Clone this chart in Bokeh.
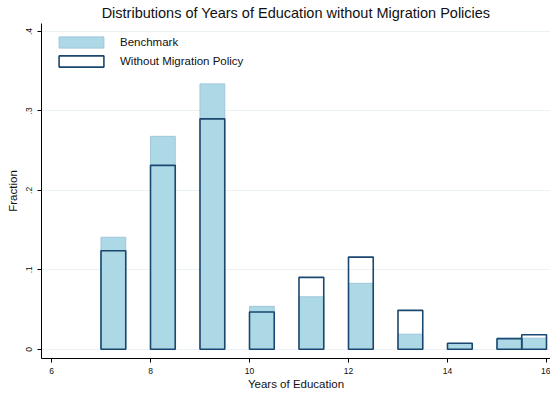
from bokeh.plotting import figure
from bokeh.models import Legend, LegendItem, FixedTicker
from bokeh.embed import file_html
from bokeh.resources import INLINE

# Histogram bins (left edges, years of education) and bar width
bin_left = [7, 8, 9, 10, 11, 12, 13, 14, 15, 15.5]
bin_width = 0.5

# Fraction of population in each bin
benchmark = [0.141, 0.268, 0.334, 0.054, 0.066, 0.083, 0.019, 0.007, 0.0146, 0.014]
no_migration = [0.124, 0.2315, 0.290, 0.047, 0.0905, 0.116, 0.049, 0.0075, 0.0133, 0.0183]

y_ticks = [0, 0.1, 0.2, 0.3, 0.4]
y_tick_labels = ["0", ".1", ".2", ".3", ".4"]
x_ticks = [6, 8, 10, 12, 14, 16]

FONT = "Liberation Sans"
FILL = "#add8e6"
NAVY = "#1a476f"

p = figure(
    width=550, height=394,
    x_range=(5.798, 16.081), y_range=(-0.0116, 0.41),
    output_backend="svg", toolbar_location=None,
    min_border_left=41, min_border_right=0,
    min_border_top=22, min_border_bottom=36,
    title="Distributions of Years of Education without Migration Policies",
)
p.outline_line_color = None
p.background_fill_color = "white"
p.border_fill_color = "white"

p.title.text_font = FONT
p.title.text_font_size = "14.5px"
p.title.text_font_style = "normal"
p.title.text_color = "#111111"
p.title.align = "center"
p.title.standoff = 5

right = [l + bin_width for l in bin_left]

bench = p.quad(left=bin_left, right=right, bottom=0, top=benchmark,
               fill_color=FILL, line_color="#9fc6da", line_width=1)
nomig = p.quad(left=bin_left, right=right, bottom=0, top=no_migration,
               fill_color=None, line_color=NAVY, line_width=1.6)

# axes
p.xaxis.ticker = FixedTicker(ticks=x_ticks)
p.yaxis.ticker = FixedTicker(ticks=y_ticks)
p.yaxis.major_label_overrides = {t: s for t, s in zip(y_ticks, y_tick_labels)}
p.yaxis.major_label_orientation = "vertical"

for ax in (p.xaxis[0], p.yaxis[0]):
    ax.axis_line_color = "#000000"
    ax.axis_line_width = 1
    ax.major_tick_line_color = "#000000"
    ax.major_tick_out = 4
    ax.major_tick_in = 0
    ax.minor_tick_line_color = None
    ax.major_label_text_font = FONT
    ax.major_label_text_font_size = "8.5px"
    ax.major_label_text_color = "#111111"
    ax.axis_label_text_font = FONT
    ax.axis_label_text_font_size = "11.5px"
    ax.axis_label_text_font_style = "normal"
    ax.axis_label_text_color = "#111111"

p.xaxis.axis_label = "Years of Education"
p.xaxis.major_label_standoff = 5
p.xaxis.axis_label_standoff = 1
p.yaxis.axis_label = "Fraction"
p.yaxis.major_label_standoff = 5
p.yaxis.axis_label_standoff = 5

p.xgrid.grid_line_color = None
p.ygrid.grid_line_color = "#eaf2f3"
p.ygrid.grid_line_width = 1

legend = Legend(
    items=[LegendItem(label="Benchmark", renderers=[bench]),
           LegendItem(label="Without Migration Policy", renderers=[nomig])],
    location="top_left",
    margin=12, padding=0, spacing=5,
    glyph_width=56, glyph_height=14, label_height=14,
    label_standoff=11,
    label_text_font=FONT, label_text_font_size="11.5px",
    label_text_color="#111111",
    border_line_color=None, background_fill_alpha=0,
)
p.add_layout(legend)

open("out.html", "w").write(file_html(p, INLINE))
